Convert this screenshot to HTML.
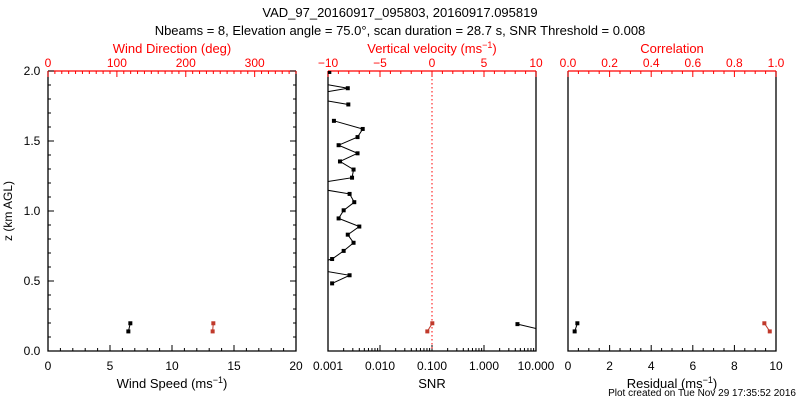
<!DOCTYPE html>
<html><head><meta charset="utf-8"><style>
html,body{margin:0;padding:0;background:#fff;}
svg{display:block;font-family:"Liberation Sans",sans-serif;}
</style></head><body>
<svg id="chart" width="800" height="400" viewBox="0 0 800 400">
<text x="400" y="17" font-size="13" text-anchor="middle">VAD_97_20160917_095803, 20160917.095819</text>
<text x="400" y="35" font-size="13" text-anchor="middle">Nbeams = 8, Elevation angle = 75.0°, scan duration = 28.7 s, SNR Threshold = 0.008</text>
<text x="12" y="211" font-size="12" text-anchor="middle" transform="rotate(-90 12 211)">z (km AGL)</text>
<text x="796" y="396" font-size="10" text-anchor="end">Plot created on Tue Nov 29 17:35:52 2016</text>
<g id="g"></g>
</svg>
<script>
const heights=[1.993,1.935,1.877,1.819,1.761,1.703,1.644,1.586,1.528,1.470,1.412,1.354,1.296,1.238,1.180,1.122,1.063,1.005,0.947,0.889,0.831,0.773,0.715,0.657,0.599,0.541,0.483,0.424,0.366,0.308,0.250,0.192,0.134];
const snr=[0.00106,0.0003,0.0024,0.0003,0.00246,null,0.0013,0.00465,0.0037,0.0016,0.0037,0.0017,0.0031,0.0029,0.0003,0.0026,0.0032,0.002,0.0016,0.004,0.0024,0.0031,0.002,0.0012,0.0003,0.0026,0.0012,null,null,null,null,4.4,20];
const windHeights=[0.198,0.14];
const windSpeed=[6.64,6.48];
const windDir=[240,239];
const wHeights=[0.198,0.14];
const wVel=[0.03,-0.45];
const resid=[0.45,0.32];
const corr=[0.944,0.97];
const yTicks=["0.0","0.5","1.0","1.5","2.0"];
const speedTicks=["0","5","10","15","20"];
const dirTicks=["0","100","200","300"];
const snrTicks=["0.001","0.010","0.100","1.000","10.000"];
const vvTicks=["−10","−5","0","5","10"];
const resTicks=["0","2","4","6","8","10"];
const corrTicks=["0.0","0.2","0.4","0.6","0.8","1.0"];

const NS="http://www.w3.org/2000/svg";
const G=document.getElementById('g');
const Y0=351,Y1=71;
function y(z){return Y0-(z/2)*(Y0-Y1);}
function mk(tag,attrs,parent){const e=document.createElementNS(NS,tag);for(const k in attrs)e.setAttribute(k,attrs[k]);(parent||G).appendChild(e);return e;}
function lin(a,b,x0,x1){return v=>x0+(v-a)/(b-a)*(x1-x0);}
function lg(a,b,x0,x1){return v=>x0+(Math.log10(v)-Math.log10(a))/(Math.log10(b)-Math.log10(a))*(x1-x0);}

const P=[[48,296],[328,536],[568,776]];
const fx=[lin(0,20,48,296),lg(0.001,10,328,536),lin(0,10,568,776)];
const tx=[lin(0,360,48,296),lin(-10,10,328,536),lin(0,1,568,776)];

// clip paths
const defs=mk('defs',{});
P.forEach((p,i)=>{const c=mk('clipPath',{id:'c'+i},defs);mk('rect',{x:p[0],y:Y1,width:p[1]-p[0],height:Y0-Y1},c);});

function tickText(x,yy,t,col,name){const e=mk('text',{x:x,y:yy,'font-size':12,'text-anchor':'middle',fill:col});e.textContent=t;return e;}

// frames
P.forEach((p,i)=>{
  const f=mk('path',{d:`M${p[0]} ${Y1}V${Y0}H${p[1]}V${Y1}`,stroke:'#000',fill:'none','stroke-width':1.3});
  
  
  const t=mk('line',{x1:p[0],x2:p[1],y1:Y1,y2:Y1,stroke:'#f00','stroke-width':1.3});
  
  
});
// y ticks left panel
for(let k=0;k<=20;k++){const z=k/10,len=(k%5==0)?6:3;const yy=y(z);
  mk('line',{x1:48,x2:48+len,y1:yy,y2:yy,stroke:'#000'});mk('line',{x1:296,x2:296-len,y1:yy,y2:yy,stroke:'#000'});}
yTicks.forEach(t=>{tickText(32,y(+t)+4,t,'#000','y-tick-label');});

// bottom linear ticks
function botLin(i,a,b,maj,min,labels){const f=fx[i];
  for(let v=a;v<=b+1e-9;v+=min){const isM=Math.abs(v/maj-Math.round(v/maj))<1e-6;mk('line',{x1:f(v),x2:f(v),y1:Y0,y2:Y0-(isM?6:3),stroke:'#000'});}
  labels.forEach(t=>tickText(f(+t),370,t,'#000','x-tick-label'));}
botLin(0,0,20,5,1,speedTicks);
botLin(2,0,10,2,0.5,resTicks);
// snr log ticks
for(let d=-3;d<1;d++){for(let m=1;m<=9;m++){const v=m*Math.pow(10,d);const xx=fx[1](v);mk('line',{x1:xx,x2:xx,y1:Y0,y2:Y0-(m==1?6:3),stroke:'#000'});}}
mk('line',{x1:536,x2:536,y1:Y0,y2:Y0-6,stroke:'#000'});
snrTicks.forEach(t=>tickText(fx[1](+t),370,t,'#000','snr-tick-label'));

// top ticks
function topLin(i,a,b,maj,min,labels,vals){const f=tx[i];
  for(let v=a;v<=b+1e-9;v+=min){const isM=Math.abs(v/maj-Math.round(v/maj))<1e-6;mk('line',{x1:f(v),x2:f(v),y1:Y1,y2:Y1+(isM?6:3),stroke:'#f00'});}
  labels.forEach((t,j)=>tickText(f(vals[j]),67,t,'#f00','top-tick-label'));}
topLin(0,0,360,100,10,dirTicks,dirTicks.map(Number));
topLin(1,-10,10,5,1,vvTicks,[-10,-5,0,5,10]);
topLin(2,0,1,0.2,0.05,corrTicks,corrTicks.map(Number));

// axis titles
function ttl(x,yy,html,col,name){const e=mk('text',{x:x,y:yy,'font-size':13,'text-anchor':'middle',fill:col});e.innerHTML=html;}
ttl(172,388,'Wind Speed (ms<tspan dy="-5" font-size="9">−1</tspan><tspan dy="5">)</tspan>','#000','x-axis-title-wind-speed');
ttl(432,388,'SNR','#000','x-axis-title-snr');
ttl(672,388,'Residual (ms<tspan dy="-5" font-size="9">−1</tspan><tspan dy="5">)</tspan>','#000','x-axis-title-residual');
ttl(172,53,'Wind Direction (deg)','#f00','top-axis-title-wind-direction');
ttl(432,53,'Vertical velocity (ms<tspan dy="-5" font-size="9">−1</tspan><tspan dy="5">)</tspan>','#f00','top-axis-title-vertical-velocity');
ttl(672,53,'Correlation','#f00','top-axis-title-correlation');

// zero vv dotted line
const zl=mk('line',{x1:tx[1](0),x2:tx[1](0),y1:Y1,y2:Y0,stroke:'#f00','stroke-dasharray':'1.5,2.5'});



function series(i,xs,zs,f,col,name){
  const g=mk('g',{'clip-path':`url(#c${i})`});
  
  
  let d='',pen=false;
  xs.forEach((v,k)=>{if(v==null){pen=false;return;}const X=f(v),Yv=y(zs[k]);d+=(pen?'L':'M')+X.toFixed(1)+' '+Yv.toFixed(1);pen=true;});
  mk('path',{d:d,stroke:col,fill:'none','stroke-width':1},g);
  xs.forEach((v,k)=>{if(v==null)return;const r=mk('rect',{x:f(v)-2,y:y(zs[k])-2,width:4,height:4,fill:col},g);
    
    });
}
series(1,snr,heights,fx[1],'#000','snr-series');
series(0,windSpeed,windHeights,fx[0],'#000','wind-speed-series');
series(0,windDir,windHeights,tx[0],'#c0392b','wind-direction-series');
series(1,wVel,wHeights,tx[1],'#c0392b','vertical-velocity-series');
series(2,resid,wHeights,fx[2],'#000','residual-series');
series(2,corr,wHeights,tx[2],'#c0392b','correlation-series');
</script>
</body></html>
